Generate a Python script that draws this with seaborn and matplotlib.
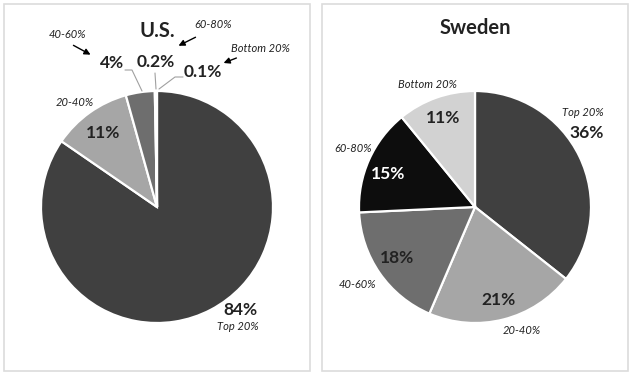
import matplotlib
matplotlib.use("Agg")
import matplotlib.pyplot as plt
import seaborn as sns
from matplotlib.patches import Rectangle

# ---- data ----
quintiles = ["Top 20%", "20-40%", "40-60%", "60-80%", "Bottom 20%"]
us_values = [84, 11, 4, 0.2, 0.1]
se_values = [36, 21, 18, 15, 11]
quintile_colors = ["#404040", "#a6a6a6", "#6e6e6e", "#0d0d0d", "#d2d2d2"]
titles = ["U.S.", "Sweden"]

sns.set_theme(style="white")
plt.rcParams["font.family"] = ["Lato", "DejaVu Sans"]

W, H = 633, 376
fig = plt.figure(figsize=(W / 100, H / 100), dpi=100)
ax = fig.add_axes([0, 0, 1, 1])


def P(x, y):
    return (x, H - y)


# panel frames
for x0, x1 in [(3.5, 309.5), (321.5, 627.5)]:
    ax.add_patch(Rectangle(P(x0, 370.5), x1 - x0, 367, fill=False,
                           edgecolor="#dcdcdc", linewidth=1.2))

R = 116
wp = dict(edgecolor="white", linewidth=1.6)
ax.pie(us_values, colors=quintile_colors, startangle=90, counterclock=False,
       center=P(157, 207), radius=R, wedgeprops=wp, frame=True)
ax.pie(se_values, colors=quintile_colors, startangle=90, counterclock=False,
       center=P(475, 207), radius=R, wedgeprops=wp, frame=True)
ax.set_xlim(0, W)
ax.set_ylim(0, H)
ax.set_aspect("equal")
ax.axis("off")

tc = "#222222"
ax.text(*P(157, 31), titles[0], ha="center", va="center", fontsize=14.5,
        fontweight="bold", color=tc)
ax.text(*P(475, 28), titles[1], ha="center", va="center", fontsize=14.5,
        fontweight="bold", color=tc)


def pct(v):
    return f"{v:g}%"


def big(x, y, s, color=tc):
    ax.text(*P(x, y), s, ha="center", va="center", fontsize=12.5,
            fontweight="bold", color=color)


def small(x, y, s):
    ax.text(*P(x, y), s, ha="center", va="center", fontsize=8,
            fontstyle="italic", color=tc)


# ---- U.S. labels ----
big(240, 310, pct(us_values[0]))
small(238, 326, quintiles[0])
big(103, 133, pct(us_values[1]))
small(75, 103, quintiles[1])
big(112, 63, pct(us_values[2]))
small(67, 34, quintiles[2])
big(156, 62, pct(us_values[3]))
small(213, 24, quintiles[3])
big(203, 72, pct(us_values[4]))
small(260, 48, quintiles[4])

lc = "#a0a0a0"
ax.plot(*zip(P(125, 70), P(132, 70), P(142, 91)), color=lc, lw=0.8)
ax.plot(*zip(P(155, 73), P(156, 89)), color=lc, lw=0.8)
ax.plot(*zip(P(183, 77), P(175, 77), P(159, 89)), color=lc, lw=0.8)

arrow = dict(arrowstyle="-|>", color="black", lw=1.0, mutation_scale=9)
ax.annotate("", xy=P(93, 56), xytext=P(71, 44), arrowprops=arrow)
ax.annotate("", xy=P(176, 47), xytext=P(198, 36), arrowprops=arrow)
ax.annotate("", xy=P(221, 64), xytext=P(239, 57), arrowprops=arrow)

# ---- Sweden labels ----
small(583, 112, quintiles[0])
big(587, 133, pct(se_values[0]))
big(498, 300, pct(se_values[1]))
small(522, 330, quintiles[1])
big(397, 258, pct(se_values[2]))
small(357, 285, quintiles[2])
big(388, 174, pct(se_values[3]), color="white")
small(353, 148, quintiles[3])
big(443, 118, pct(se_values[4]))
small(427, 85, quintiles[4])

fig.savefig("out.png", dpi=100, facecolor="white")
